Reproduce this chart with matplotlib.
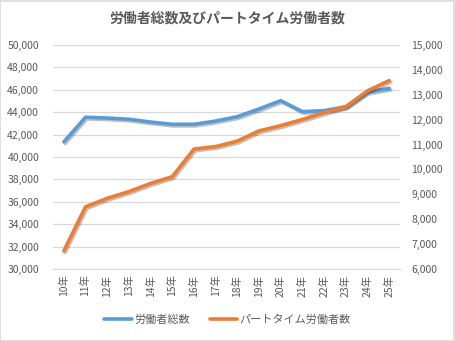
import matplotlib
matplotlib.use("Agg")
import matplotlib.pyplot as plt
import matplotlib.patheffects as pe
from matplotlib.patches import Rectangle
from matplotlib.ticker import FuncFormatter, MultipleLocator

plt.rcParams['font.family'] = ['Noto Sans CJK JP', 'DejaVu Sans']

# データ
years = ["10年", "11年", "12年", "13年", "14年", "15年", "16年", "17年",
         "18年", "19年", "20年", "21年", "22年", "23年", "24年", "25年"]
total_workers = [41350, 43550, 43480, 43370, 43120, 42920, 42920, 43210,
                 43600, 44290, 45030, 44050, 44140, 44490, 45780, 46130]
part_timers = [6730, 8500, 8840, 9110, 9440, 9710, 10820, 10920,
               11140, 11550, 11760, 12010, 12280, 12520, 13160, 13570]

gray = '#595959'
blue = '#5B9BD5'
orange = '#ED7D31'

fig = plt.figure(figsize=(4.55, 3.41), dpi=100)
ax = fig.add_axes([53 / 455, 72 / 341, 347 / 455, 224 / 341])
ax2 = ax.twinx()

# ombre légère façon Excel
shadow = [pe.SimpleLineShadow(offset=(1.0, -1.2), alpha=0.25, shadow_color='black'),
          pe.Normal()]
x = range(len(years))
l1, = ax.plot(x, total_workers, color=blue, linewidth=2.6,
              solid_capstyle='round', path_effects=shadow, label='労働者総数', zorder=3)
l2, = ax2.plot(x, part_timers, color=orange, linewidth=2.6,
               solid_capstyle='round', path_effects=shadow, label='パートタイム労働者数', zorder=3)

ax.set_xlim(-0.5, len(years) - 0.5)
ax.set_ylim(30000, 50000)
ax2.set_ylim(6000, 15000)
ax.yaxis.set_major_locator(MultipleLocator(2000))
ax2.yaxis.set_major_locator(MultipleLocator(1000))
fmt = FuncFormatter(lambda v, p: f"{int(v):,}")
ax.yaxis.set_major_formatter(fmt)
ax2.yaxis.set_major_formatter(fmt)

ax.set_xticks(list(x))
ax.set_xticklabels(years, rotation=90, fontsize=7, color=gray)
ax.grid(axis='y', color='#D9D9D9', linewidth=0.9)
ax.set_axisbelow(True)

for a in (ax, ax2):
    for s in a.spines.values():
        s.set_visible(False)
    a.tick_params(length=0, colors=gray, labelsize=7.5)
ax.spines['bottom'].set_visible(True)
ax.spines['bottom'].set_color('#D9D9D9')
ax.tick_params(axis='y', pad=10)
ax2.tick_params(axis='y', pad=8)
ax.tick_params(axis='x', pad=4)

fig.suptitle("労働者総数及びパートタイム労働者数", x=0.5, y=0.965,
             fontsize=10, fontweight='bold', color=gray)

leg = fig.legend(handles=[l1, l2], loc='center', bbox_to_anchor=(0.5, 0.063), ncol=2,
                 frameon=False, fontsize=8, labelcolor=gray, handlelength=2.5,
                 handletextpad=0.2, columnspacing=1.8)
for h in leg.legend_handles:
    h.set_path_effects([])

fig.patches.append(Rectangle((0.001, 0.001), 0.997, 0.996, transform=fig.transFigure,
                             fill=False, edgecolor='#D9D9D9', linewidth=1.2))

fig.savefig("out.png", dpi=100)
